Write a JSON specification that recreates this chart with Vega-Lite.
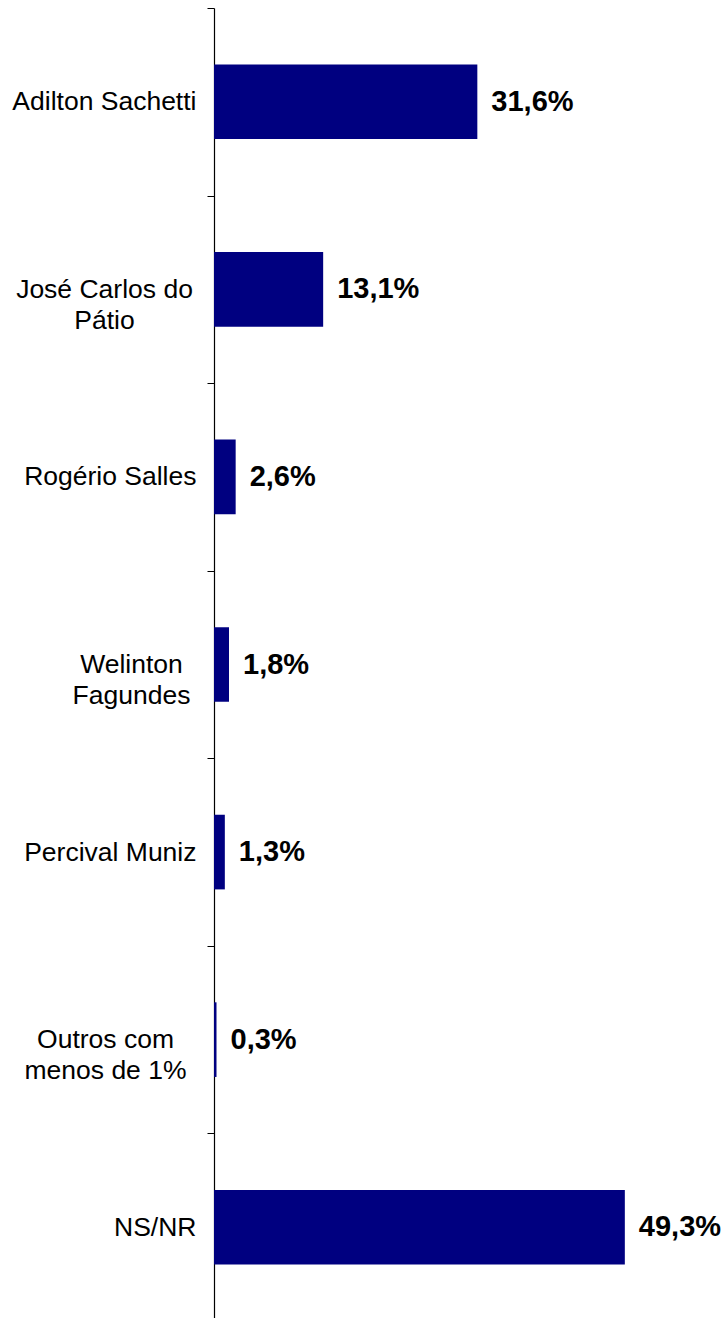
{
  "$schema": "https://vega.github.io/schema/vega-lite/v6.json",
  "autosize": "none",
  "padding": {"left": 214, "top": 8, "right": 7, "bottom": 0},
  "width": 500,
  "height": 1313,
  "background": "white",
  "config": {
    "view": {"stroke": null},
    "locale": {"number": {"decimal": ",", "thousands": ".", "grouping": [3], "currency": ["R$", ""]}}
  },
  "data": {
    "values": [
      {"candidato": "Adilton Sachetti", "share": 0.316},
      {"candidato": "José Carlos do Pátio", "share": 0.131},
      {"candidato": "Rogério Salles", "share": 0.026},
      {"candidato": "Welinton Fagundes", "share": 0.018},
      {"candidato": "Percival Muniz", "share": 0.013},
      {"candidato": "Outros com menos de 1%", "share": 0.003},
      {"candidato": "NS/NR", "share": 0.493}
    ]
  },
  "encoding": {
    "y": {
      "field": "candidato",
      "type": "nominal",
      "sort": null,
      "scale": {"paddingInner": 0, "paddingOuter": 0},
      "axis": {
        "title": null,
        "tickBand": "extent",
        "tickSize": 7,
        "tickColor": "black",
        "tickWidth": 1,
        "domainColor": "black",
        "domainWidth": 1.2,
        "labelFont": "Liberation Sans",
        "labelFontSize": 26.5,
        "labelColor": "black",
        "labelLineHeight": 31,
        "labelLimit": 300,
        "labelBaseline": "middle",
        "labelExpr": "datum.value === 'José Carlos do Pátio' ? ['José Carlos do', 'Pátio'] : datum.value === 'Welinton Fagundes' ? ['Welinton', 'Fagundes'] : datum.value === 'Outros com menos de 1%' ? ['Outros com', 'menos de 1%'] : datum.value",
        "labelAlign": {
          "condition": {"test": "indexof(['José Carlos do Pátio', 'Welinton Fagundes', 'Outros com menos de 1%'], datum.value) >= 0", "value": "center"},
          "value": "right"
        },
        "labelPadding": {
          "condition": [
            {"test": "datum.value === 'José Carlos do Pátio'", "value": 103},
            {"test": "datum.value === 'Welinton Fagundes'", "value": 76},
            {"test": "datum.value === 'Outros com menos de 1%'", "value": 102}
          ],
          "value": 11
        }
      }
    },
    "x": {
      "field": "share",
      "type": "quantitative",
      "scale": {"domain": [0, 0.6], "nice": false, "zero": true},
      "axis": null
    }
  },
  "layer": [
    {"mark": {"type": "bar", "color": "#000080", "height": {"band": 0.398}}},
    {
      "mark": {
        "type": "text",
        "align": "left",
        "baseline": "middle",
        "dx": 14,
        "font": "Liberation Sans",
        "fontSize": 29,
        "fontWeight": "bold",
        "color": "black"
      },
      "encoding": {
        "text": {"field": "share", "type": "quantitative", "format": ".1%"}
      }
    }
  ]
}
